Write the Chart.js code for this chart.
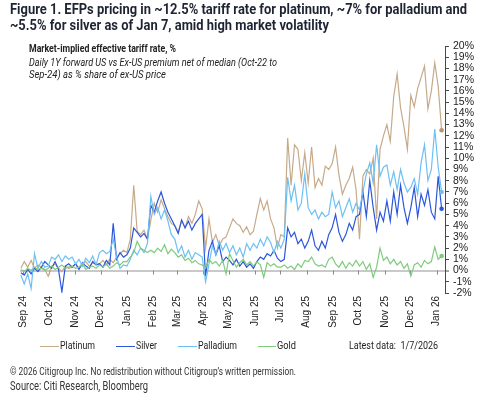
<!DOCTYPE html>
<html><head><meta charset="utf-8">
<script src="https://cdn.jsdelivr.net/npm/chart.js@4.4.1/dist/chart.umd.min.js"></script>
<style>
html,body{margin:0;padding:0;background:#fff;}
#wrap{position:relative;width:494px;height:394px;overflow:hidden;font-family:"Liberation Sans Narrow","Roboto","Liberation Sans",Arial,sans-serif;color:#222;}
#c{position:absolute;left:0;top:0;}
.t{position:absolute;white-space:nowrap;transform-origin:0 0;line-height:1;}
.lg{position:absolute;height:1.3px;}
</style></head><body>
<div id="wrap">
<canvas id="c" width="494" height="394"></canvas>
<div class="t" data-w="457" style="left:10px;top:1.5px;font-size:15px;font-weight:bold;color:#1e2434">Figure 1. EFPs pricing in ~12.5% tariff rate for platinum, ~7% for palladium and</div>
<div class="t" data-w="319" style="left:10px;top:17.5px;font-size:15px;font-weight:bold;color:#1e2434">~5.5% for silver as of Jan 7, amid high market volatility</div>
<div class="t" data-w="147" style="left:29px;top:44px;font-size:10.5px;font-weight:bold;color:#222">Market-implied effective tariff rate, %</div>
<div class="t" data-w="248" style="left:29px;top:58px;font-size:10.3px;font-style:italic;color:#222">Daily 1Y forward US vs Ex-US premium net of median (Oct-22 to</div>
<div class="t" data-w="137" style="left:29px;top:69.6px;font-size:10.3px;font-style:italic;color:#222">Sep-24) as % share of ex-US price</div>
<div id="legend"></div>
<div class="t" data-w="89" style="left:349px;top:341px;font-size:10.3px;color:#222">Latest data:&nbsp; 1/7/2026</div>
<div class="t" data-w="286" style="left:10px;top:366.5px;font-size:10px;color:#333">© 2026 Citigroup Inc. No redistribution without Citigroup’s written permission.</div>
<div class="t" data-w="138" style="left:10px;top:380px;font-size:12px;color:#333">Source: Citi Research, Bloomberg</div>
</div>
<script>
// ---- Data ----
const seriesNames = ["Platinum", "Silver", "Palladium", "Gold"];
const monthStartDays = [0,30,61,91,122,153,181,212,242,273,303,334,365,395,426,456,487]; // days since 1 Sep 2024
const monthLabels = ["Sep 24","Oct 24","Nov 24","Dec 24","Jan 25","Feb 25","Mar 25","Apr 25","May 25","Jun 25","Jul 25","Aug 25","Sep 25","Oct 25","Nov 25","Dec 25","Jan 26"];
const firstDay = -3, lastDay = 493; // 29 Aug 2024 .. 7 Jan 2026
const yTicks = [-2,-1,0,1,2,3,4,5,6,7,8,9,10,11,12,13,14,15,16,17,18,19,20];

const platinum = [
 0.2,0.8,0.3,0.9,0.2,0.5,0.3,0.1,
 -0.5,0.3,0.6,0.2,-0.1,0.4,0.2,
 0.3,0.6,0.2,0.5,0.8,0.4,0.7,0.5,
 0.6,0.9,0.5,1.0,0.7,1.2,1.5,1.8,
 1.6,2.8,7.6,3.5,3.2,3.6,2.8,
 4.5,6.0,5.2,6.3,5.5,4.8,4.2,
 4.0,3.4,4.5,3.8,4.8,4.2,5.0,6.2,
 5.5,2.0,4.6,2.5,3.2,2.2,2.8,3.0,
 3.8,4.6,4.2,4.0,3.4,3.9,3.2,
 3.5,5.0,6.4,5.4,6.2,4.6,3.8,2.0,
 3.2,3.0,11.8,7.6,11.2,10.8,8.0,10.5,
 7.8,11.0,7.4,8.2,7.6,9.3,9.0,
 9.5,11.0,8.5,6.8,7.6,8.2,9.2,7.2,
 2.8,8.4,9.0,8.6,10.0,4.6,10.8,12.0,
 13.0,11.5,15.5,17.5,14.5,12.8,10.8,
 15.6,14.6,16.2,17.2,18.2,14.4,16.0,18.5,
 16.4,12.5];
const silver = [
 -0.2,-0.4,0.1,-0.3,0.2,-0.1,0.3,0.8,
 0.5,0.2,0.8,0.1,-1.9,0.4,0.6,
 0.3,0.6,0.1,0.7,0.4,0.2,0.8,0.5,
 0.6,0.3,0.9,0.5,4.2,1.0,1.6,1.2,
 1.4,2.0,3.8,3.4,3.0,3.3,2.8,
 5.8,5.2,6.2,7.0,6.0,5.2,4.6,
 4.0,3.3,4.5,3.8,4.4,3.6,4.2,4.6,
 5.0,-0.5,1.8,2.6,1.4,2.2,0.8,1.2,
 0.9,0.5,1.0,0.4,0.8,0.3,0.6,
 0.2,0.8,1.2,1.0,1.5,1.3,1.8,1.1,
 0.8,1.0,3.8,3.0,3.4,2.4,2.8,2.0,
 2.6,3.6,2.2,1.8,2.6,2.0,3.2,
 3.8,5.0,3.4,2.6,3.2,4.2,3.6,4.8,
 5.0,7.0,4.8,8.0,5.6,3.6,5.2,4.4,
 6.2,4.4,7.0,5.0,7.6,5.6,4.2,
 5.6,7.4,4.8,6.8,5.8,7.2,5.2,4.6,
 8.4,5.5];
const palladium = [
 -0.4,-1.2,-0.3,-1.6,1.5,0.2,0.8,0.3,
 0.4,1.2,1.0,1.4,0.8,1.3,1.0,
 1.2,0.6,1.0,0.4,1.1,0.7,1.3,0.5,
 1.6,1.8,1.5,1.7,2.8,1.2,0.2,0.5,
 0.4,1.0,1.8,1.4,2.0,1.6,2.4,
 6.6,5.0,5.6,4.6,5.4,4.4,3.2,
 2.8,1.6,2.2,1.2,1.8,1.0,1.6,1.4,
 1.2,-1.0,0.6,2.2,1.4,2.6,1.8,2.4,
 1.6,2.2,1.4,2.0,1.2,2.4,1.8,
 2.4,2.0,2.8,2.2,3.0,2.5,1.6,2.6,
 2.0,2.8,8.3,6.2,7.6,5.4,6.0,8.6,
 5.6,5.0,5.4,4.6,5.2,4.8,5.0,
 7.0,5.6,6.2,4.8,5.6,6.4,5.2,6.0,
 5.4,7.0,8.6,9.6,7.8,11.2,8.4,9.2,
 9.4,7.6,8.8,7.2,9.0,7.8,7.0,
 7.4,8.2,6.8,9.6,11.2,8.0,9.0,12.6,
 9.2,7.0];
const gold = [
 0.1,-0.1,0.2,0.0,0.3,0.1,0.2,0.0,
 0.2,0.4,0.1,0.3,0.5,0.2,0.3,
 0.4,0.2,0.3,0.6,0.1,0.3,0.4,0.2,
 0.5,0.3,0.6,0.2,0.4,0.7,0.5,0.8,
 0.8,1.2,1.6,2.6,2.0,1.8,1.6,
 1.8,1.6,2.0,1.7,2.3,1.5,1.9,
 1.6,1.2,1.4,0.9,1.1,0.7,0.9,0.6,
 0.5,0.2,1.0,0.6,0.8,0.4,0.9,-0.3,
 1.5,0.9,0.3,0.7,1.0,0.5,0.8,
 0.4,0.8,0.5,-0.6,0.7,0.4,0.6,0.3,
 0.3,0.5,0.2,0.4,0.1,0.6,0.3,0.9,
 0.8,1.2,0.6,0.4,0.5,0.3,1.0,
 1.2,0.6,0.3,0.8,0.2,0.7,0.4,0.9,
 0.4,0.8,0.1,0.6,-0.6,0.3,2.0,0.9,
 1.2,0.6,1.0,0.5,0.8,0.2,0.6,
 -0.5,0.5,0.7,0.3,0.9,0.6,0.8,2.1,
 1.0,1.3];

const colors = ["#c6aa8a", "#2c57dc", "#6cc0f4", "#7ecb7e"];
const markerColors = ["#b89570", "#2c57dc", "#6cc0f4", "#7ecb7e"];
const allSeries = [platinum, silver, palladium, gold];

const n = platinum.length;
const xDays = platinum.map((_, i) => firstDay + (lastDay - firstDay) * i / (n - 1));
const toPts = arr => arr.map((v, i) => ({x: xDays[i], y: v}));

const FONT = '"Liberation Sans Narrow","Liberation Sans",Arial,sans-serif';

const zeroTicks = {
  id: 'zeroTicks',
  beforeDatasetsDraw(chart) {
    const xs = chart.scales.x, ys = chart.scales.y, ctx = chart.ctx;
    const y0 = ys.getPixelForValue(0);
    ctx.save();
    ctx.strokeStyle = '#8a8a8a';
    ctx.lineWidth = 1;
    monthStartDays.forEach(d => {
      const px = Math.round(xs.getPixelForValue(d)) + 0.5;
      ctx.beginPath(); ctx.moveTo(px, y0); ctx.lineTo(px, y0 + 4); ctx.stroke();
    });
    ctx.restore();
  }
};

new Chart(document.getElementById('c'), {
  type: 'line',
  data: {
    datasets: allSeries.map((arr, k) => ({
      label: seriesNames[k],
      data: toPts(arr),
      borderColor: colors[k],
      backgroundColor: markerColors[k],
      borderWidth: 1.2,
      tension: 0,
      fill: false,
      order: 4 - k,
      pointRadius: arr.map((_, i) => i === arr.length - 1 ? 2.3 : 0),
      pointBorderWidth: 0,
      pointBackgroundColor: markerColors[k]
    }))
  },
  options: {
    responsive: false,
    animation: false,
    devicePixelRatio: 1,
    layout: {padding: {left: 20, top: 46, right: 0, bottom: 61}},
    plugins: {legend: {display: false}, title: {display: false}, tooltip: {enabled: false}},
    scales: {
      x: {
        type: 'linear', min: -4, max: 497,
        afterBuildTicks: s => { s.ticks = monthStartDays.map(v => ({value: v})); },
        afterFit: s => { s.height = 40; },
        ticks: {
          autoSkip: false, maxRotation: 90, minRotation: 90, padding: 3,
          color: '#222', font: {family: FONT, size: 10},
          callback: v => monthLabels[monthStartDays.indexOf(v)]
        },
        grid: {display: false, drawTicks: false},
        border: {display: false}
      },
      y: {
        position: 'right', min: -2, max: 20,
        afterBuildTicks: s => { s.ticks = yTicks.map(v => ({value: v})); },
        afterFit: s => { s.width = 49; },
        ticks: {
          autoSkip: false, padding: 4, color: '#222', font: {family: FONT, size: 10.5},
          callback: v => v + '%'
        },
        grid: {
          drawOnChartArea: true, drawTicks: true, tickLength: 4,
          tickColor: '#3e4f40', tickWidth: 1,
          color: c => (c.tick && c.tick.value === 0) ? '#c9c9c9' : 'rgba(0,0,0,0)',
          lineWidth: c => (c.tick && c.tick.value === 0) ? 2 : 1
        },
        border: {display: true, color: '#3e4f40', width: 1}
      }
    }
  },
  plugins: [zeroTicks]
});

// legend built from the series names/colours
const legendPos = [[40, 60, 35], [116, 136, 21], [178, 198, 39], [258, 277, 19]];
const lg = document.getElementById('legend');
seriesNames.forEach((name, k) => {
  const line = document.createElement('div');
  line.className = 'lg';
  line.style.cssText = `left:${legendPos[k][0]}px;top:345.5px;width:${legendPos[k][1]-legendPos[k][0]-1}px;background:${colors[k]}`;
  lg.appendChild(line);
  const t = document.createElement('div');
  t.className = 't';
  t.dataset.w = legendPos[k][2];
  t.style.cssText = `left:${legendPos[k][1]}px;top:341px;font-size:10.3px;color:#222`;
  t.textContent = name;
  lg.appendChild(t);
});

function fit() {
  document.querySelectorAll('[data-w]').forEach(el => {
    el.style.transform = 'none';
    const w = el.getBoundingClientRect().width;
    el.style.transform = 'scaleX(' + (+el.dataset.w / w) + ')';
  });
}
fit();
if (document.fonts && document.fonts.ready) document.fonts.ready.then(fit);
</script>
</body></html>
